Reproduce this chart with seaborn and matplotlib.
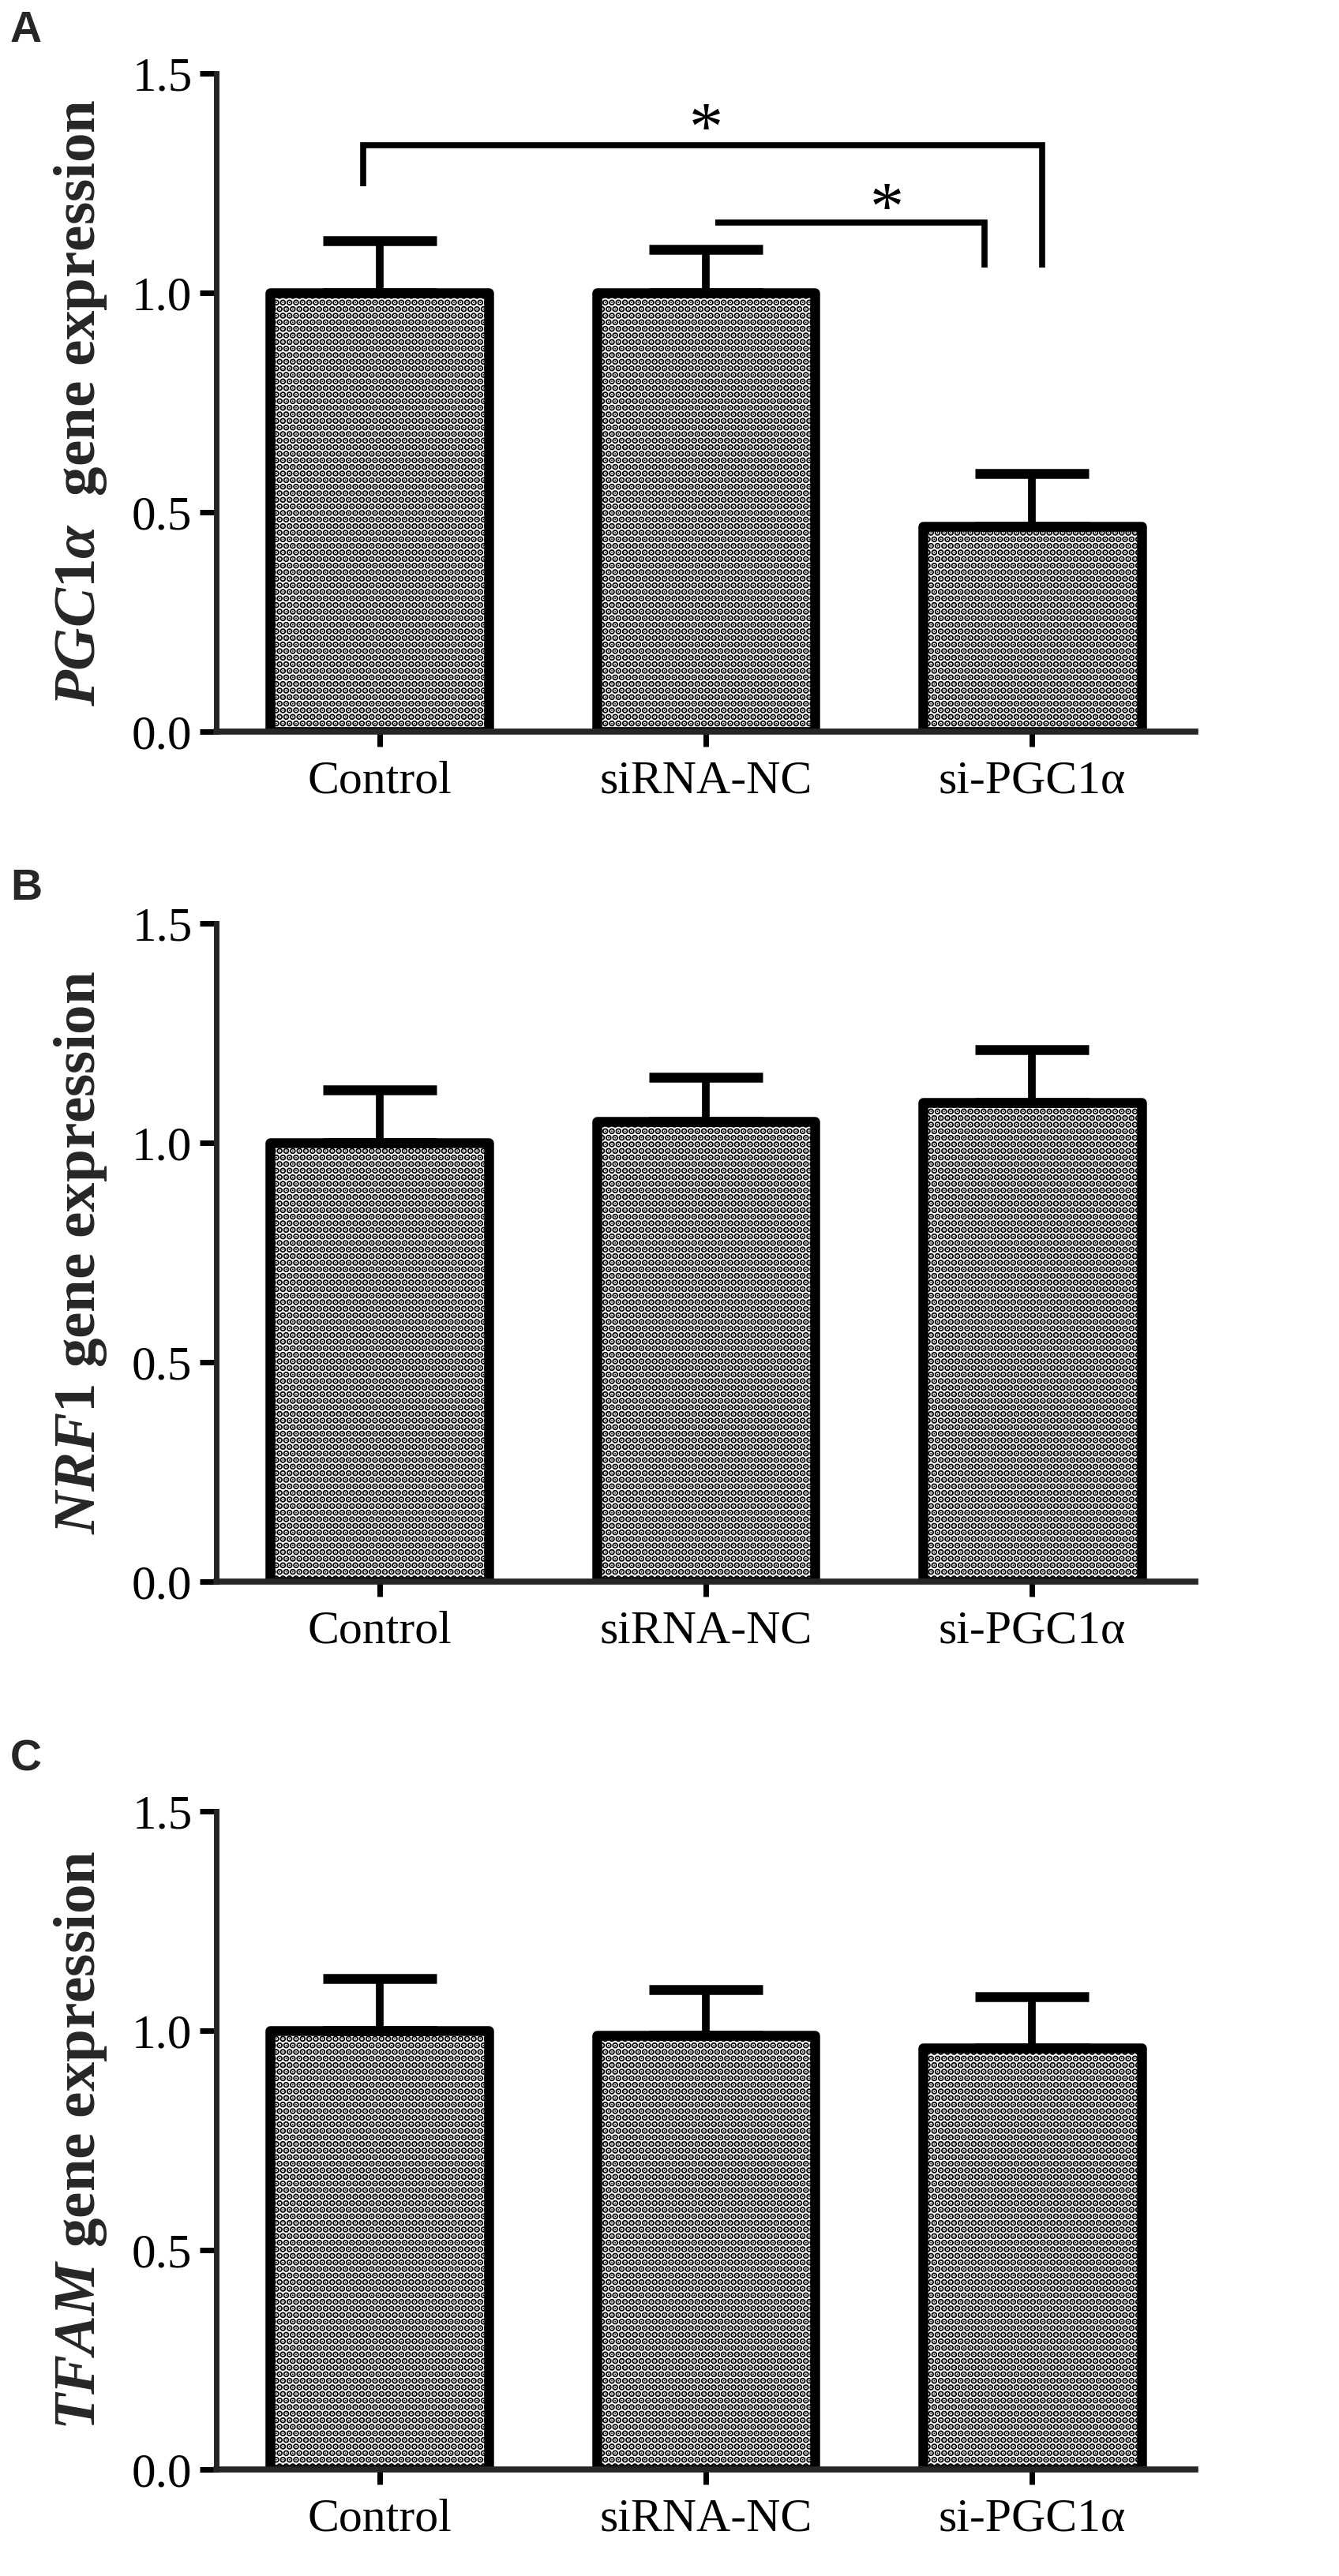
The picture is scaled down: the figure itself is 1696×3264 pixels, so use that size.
import numpy as np
import pandas as pd
import matplotlib
matplotlib.use("Agg")
import matplotlib.pyplot as plt
import seaborn as sns

# ---------------- data ----------------
groups = ["Control", "siRNA-NC", "si-PGC1α"]

pgc1a_mean = [1.00, 1.00, 0.468]
pgc1a_top = [1.118, 1.099, 0.589]

nrf1_mean = [1.00, 1.048, 1.091]
nrf1_top = [1.120, 1.150, 1.212]

tfam_mean = [1.00, 0.990, 0.961]
tfam_top = [1.119, 1.093, 1.078]

gene_names = [r"PGC1\alpha", "NRF1", "TFAM"]
gene_gap = ["  ", " ", " "]
panel_letters = ["A", "B", "C"]
y_ticks = [0.0, 0.5, 1.0, 1.5]
y_tick_labels = ["0.0", "0.5", "1.0", "1.5"]

# significance brackets for panel A: (x-left, x-right, y-bar, y-left-end, y-right-end)
sig_big = [-0.05, 2.03, 1.336, 1.243, 1.057]
sig_small = [1.03, 1.855, 1.160, 1.160, 1.057]
star_pos = [(1.00, 1.408), (1.555, 1.225)]

# ---------------- style ----------------
sns.set_style("ticks")
plt.rcParams["font.family"] = ["Liberation Serif", "DejaVu Serif"]
plt.rcParams["mathtext.fontset"] = "custom"
plt.rcParams["mathtext.it"] = "Liberation Serif:italic:bold"
plt.rcParams["mathtext.rm"] = "Liberation Serif:bold"
plt.rcParams["mathtext.bf"] = "Liberation Serif:bold"
plt.rcParams["hatch.linewidth"] = 4.2

W, H = 1696, 3264
fig = plt.figure(figsize=(W / 100, H / 100), dpi=100)

ax_left = 274 / W
ax_width = 1240 / W
ax_height = 834 / H
bottoms_px = [927, 2004, 3129]
letter_tops_px = [13, 1100, 2204]

means_all = [pgc1a_mean, nrf1_mean, tfam_mean]
tops_all = [pgc1a_top, nrf1_top, tfam_top]

for i in range(3):
    ax = fig.add_axes([ax_left, 1 - bottoms_px[i] / H, ax_width, ax_height])
    df = pd.DataFrame({"group": groups, "value": means_all[i]})
    sns.barplot(data=df, x="group", y="value", ax=ax, width=0.67,
                color="white", saturation=1, edgecolor="black",
                linewidth=9, hatch="..", errorbar=None, zorder=2)
    for p in ax.patches:
        p.set_joinstyle("round")
    means = np.array(means_all[i])
    tops = np.array(tops_all[i])
    ax.errorbar(np.arange(3), means, yerr=[np.zeros(3), tops - means],
                fmt="none", ecolor="black", elinewidth=7, capsize=52,
                capthick=9, zorder=3)

    ax.set_xlim(-0.5, 2.5)
    ax.set_ylim(0, 1.5)
    ax.set_yticks(y_ticks)
    ax.set_yticklabels(y_tick_labels, fontsize=44)
    ax.set_xticks(range(3))
    ax.set_xticklabels(groups, fontsize=43)
    ax.tick_params(axis="y", length=15, width=5, pad=7, colors="black")
    ax.tick_params(axis="x", length=14, width=5, pad=12, colors="black")
    sns.despine(ax=ax)
    ax.spines["left"].set_linewidth(5)
    ax.spines["bottom"].set_linewidth(5.5)
    ax.set_xlabel("")
    ax.set_ylabel(r"$\mathit{" + gene_names[i] + "}$" + gene_gap[i] + "gene expression",
                  fontsize=54, fontweight="bold")
    ax.yaxis.set_label_coords(-0.110, 0.5)
    ax.set_facecolor("white")

    fig.text(13 / W, 1 - letter_tops_px[i] / H, panel_letters[i],
             family="Liberation Sans", fontweight="bold", fontsize=40,
             ha="left", va="top")

    if i == 0:
        xl, xr, yb, yl, yr = sig_big
        ax.plot([xl, xl, xr, xr], [yl, yb, yb, yr], color="black", lw=5.5,
                solid_joinstyle="miter", solid_capstyle="butt", clip_on=False)
        xl, xr, yb, yl, yr = sig_small
        ax.plot([xl, xr, xr], [yb, yb, yr], color="black", lw=5.5,
                solid_joinstyle="miter", solid_capstyle="butt", clip_on=False)
        for (sx, sy) in star_pos:
            ax.text(sx, sy - 0.08, "*", ha="center", va="baseline",
                    fontsize=62, color="black")

fig.savefig("out.png", dpi=100, facecolor="white")
